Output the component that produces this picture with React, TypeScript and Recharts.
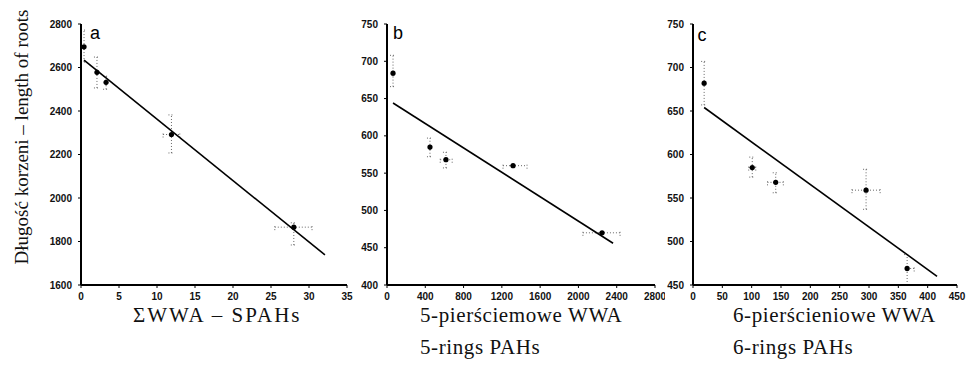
import { ScatterChart, Scatter, XAxis, YAxis, ErrorBar } from 'recharts';

// panel a: sum of PAHs
const xA = [0.4, 2.1, 3.3, 11.9, 28];
const yA = [2695, 2578, 2532, 2292, 1866];
const errYA = [[70, 77], [72, 70], [32, 28], [85, 90], [82, 20]];
const errXA = [[0, 0], [0, 0], [0, 0], [1.1, 1.1], [2.5, 2.4]];
const fitXA = [0.4, 32.1];
const fitYA = [2634, 1738];
const ticksXA = [0, 5, 10, 15, 20, 25, 30, 35];
const ticksYA = [1600, 1800, 2000, 2200, 2400, 2600, 2800];

// panel b: 5-ring PAHs
const xB = [63, 449, 616, 1317, 2247];
const yB = [684, 585, 568, 560, 470];
const errYB = [[18, 24], [13, 12], [11, 10], [0, 0], [0, 0]];
const errXB = [[0, 0], [0, 0], [60, 65], [105, 146], [200, 188]];
const fitXB = [63, 2362];
const fitYB = [644, 456];
const ticksXB = [0, 400, 800, 1200, 1600, 2000, 2400, 2800];
const ticksYB = [400, 450, 500, 550, 600, 650, 700, 750];

// panel c: 6-ring PAHs
const xC = [19, 101, 141, 295, 365];
const yC = [682, 585, 568, 559, 469];
const errYC = [[25, 25], [11, 12], [12, 11], [22, 24], [19, 16]];
const errXC = [[0, 0], [6, 6], [14, 13], [24, 24], [0, 12]];
const fitXC = [19, 416];
const fitYC = [654, 460];
const ticksXC = [0, 50, 100, 150, 200, 250, 300, 350, 400, 450];
const ticksYC = [450, 500, 550, 600, 650, 700, 750];

const tickStyle = { fontSize: 10, fontWeight: 700, fill: '#111', fontFamily: 'Liberation Sans, Arial, sans-serif' };

const Dot = (props: any) => <circle cx={props.cx} cy={props.cy} r={2.6} fill="#000" />;
const NoDot = () => <g />;

interface PanelParams {
    left: number;
    width: number;
    yAxisWidth: number;
    marginRight: number;
    xs: number[];
    ys: number[];
    ex: number[][];
    ey: number[][];
    fitX: number[];
    fitY: number[];
    ticksX: number[];
    ticksY: number[];
    letter: string;
    letterX: number;
    letterY: number;
}

function Panel({ left, width, yAxisWidth, marginRight, xs, ys, ex, ey, fitX, fitY, ticksX, ticksY, letter, letterX, letterY }: PanelParams) {
    const points = xs.map((x, i) => ({ x, y: ys[i], ex: ex[i], ey: ey[i] }));
    const fit = fitX.map((x, i) => ({ x, y: fitY[i] }));
    const xDomain = [ticksX[0], ticksX[ticksX.length - 1]];
    const yDomain = [ticksY[0], ticksY[ticksY.length - 1]];

    return (
        <div style={{ position: 'absolute', left, top: 0 }}>
            <ScatterChart width={width} height={310} margin={{ top: 24, right: marginRight, bottom: 0, left: 0 }}>
                <XAxis
                    type="number"
                    dataKey="x"
                    domain={xDomain}
                    ticks={ticksX}
                    allowDataOverflow
                    height={25}
                    tick={tickStyle}
                    tickSize={3}
                    tickMargin={5}
                    axisLine={{ stroke: '#000', strokeWidth: 2 }}
                    tickLine={{ stroke: '#000' }}
                />
                <YAxis
                    type="number"
                    dataKey="y"
                    domain={yDomain}
                    ticks={ticksY}
                    allowDataOverflow
                    width={yAxisWidth}
                    tick={tickStyle}
                    tickSize={3}
                    tickMargin={6}
                    axisLine={{ stroke: '#000', strokeWidth: 2 }}
                    tickLine={{ stroke: '#000' }}
                />
                <Scatter data={fit} shape={NoDot} line={{ stroke: '#000', strokeWidth: 1.6 }} isAnimationActive={false} />
                <Scatter data={points} shape={Dot} isAnimationActive={false}>
                    <ErrorBar dataKey="ey" direction="y" width={3} stroke="#666" strokeWidth={1} strokeDasharray="1 2" />
                    <ErrorBar dataKey="ex" direction="x" width={3} stroke="#666" strokeWidth={1} strokeDasharray="1 2" />
                </Scatter>
            </ScatterChart>
            <div style={{ position: 'absolute', left: letterX - left, top: letterY, transform: 'translate(-50%, -50%)', fontFamily: 'Liberation Sans, Arial, sans-serif', fontSize: 18, lineHeight: 1 }}>
                {letter}
            </div>
        </div>
    );
}

const titleStyle: any = {
    position: 'absolute',
    fontFamily: 'Liberation Serif, Times New Roman, serif',
    fontSize: 21,
    lineHeight: '21px',
    whiteSpace: 'nowrap',
    color: '#111',
};

export default function App() {
    return (
        <div style={{ position: 'absolute', left: 0, top: 0, width: 968, height: 368, background: '#fff', overflow: 'hidden' }}>
            <Panel left={30} width={330} yAxisWidth={51} marginRight={13} xs={xA} ys={yA} ex={errXA} ey={errYA}
                fitX={fitXA} fitY={fitYA} ticksX={ticksXA} ticksY={ticksYA} letter="a" letterX={95} letterY={33} />
            <Panel left={355} width={310} yAxisWidth={32} marginRight={10} xs={xB} ys={yB} ex={errXB} ey={errYB}
                fitX={fitXB} fitY={fitYB} ticksX={ticksXB} ticksY={ticksYB} letter="b" letterX={398} letterY={33} />
            <Panel left={660} width={308} yAxisWidth={33} marginRight={11} xs={xC} ys={yC} ex={errXC} ey={errYC}
                fitX={fitXC} fitY={fitYC} ticksX={ticksXC} ticksY={ticksYC} letter="c" letterX={702} letterY={35} />

            <div style={{ position: 'absolute', left: 22, top: 137, transform: 'translate(-50%, -50%) rotate(-90deg)', fontFamily: 'Liberation Serif, Times New Roman, serif', fontSize: 19, whiteSpace: 'nowrap', color: '#111' }}>
                Długość korzeni – length of roots
            </div>

            <div style={{ ...titleStyle, left: 133, top: 305, letterSpacing: 2 }}>ΣWWA – SPAHs</div>
            <div style={{ ...titleStyle, left: 420, top: 305, letterSpacing: 0.6 }}>5-pierściemowe WWA</div>
            <div style={{ ...titleStyle, left: 420, top: 337, letterSpacing: 0.6 }}>5-rings PAHs</div>
            <div style={{ ...titleStyle, left: 733, top: 305, letterSpacing: 0.6 }}>6-pierścieniowe WWA</div>
            <div style={{ ...titleStyle, left: 733, top: 337, letterSpacing: 0.6 }}>6-rings PAHs</div>
        </div>
    );
}
